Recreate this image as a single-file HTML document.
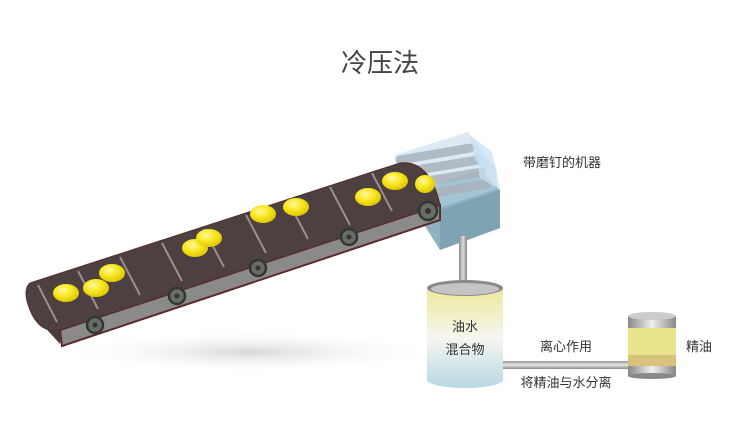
<!DOCTYPE html>
<html><head><meta charset="utf-8"><style>
body{margin:0;background:#fff;}
svg{display:block;font-family:"Liberation Sans","Noto Sans CJK SC",sans-serif;}
</style></head><body>
<svg width="750" height="436" viewBox="0 0 750 436">
<defs>
<radialGradient id="sh" cx="0.5" cy="0.5" r="0.5"><stop offset="0" stop-color="#d8d8d8"/><stop offset="1" stop-color="#fff" stop-opacity="0"/></radialGradient>
<radialGradient id="lem" cx="0.4" cy="0.35" r="0.7"><stop offset="0" stop-color="#fff9a0"/><stop offset="0.5" stop-color="#f8e61c"/><stop offset="1" stop-color="#d9c200"/></radialGradient>
<linearGradient id="tank" x1="0" y1="0" x2="0" y2="1"><stop offset="0" stop-color="#ece89a"/><stop offset="0.5" stop-color="#f6f6f0"/><stop offset="1" stop-color="#b9d8e6"/></linearGradient>
<linearGradient id="pipeV" x1="0" y1="0" x2="1" y2="0"><stop offset="0" stop-color="#888"/><stop offset="0.5" stop-color="#ddd"/><stop offset="1" stop-color="#888"/></linearGradient>
<linearGradient id="pipeH" x1="0" y1="0" x2="0" y2="1"><stop offset="0" stop-color="#999"/><stop offset="0.5" stop-color="#e6e6e6"/><stop offset="1" stop-color="#888"/></linearGradient>
<linearGradient id="cap" x1="0" y1="0" x2="1" y2="0"><stop offset="0" stop-color="#888"/><stop offset="0.5" stop-color="#eee"/><stop offset="1" stop-color="#888"/></linearGradient>
</defs>
<text x="380" y="72" font-size="26" fill="#444" text-anchor="middle">冷压法</text>
<ellipse cx="250" cy="352" rx="190" ry="22" fill="url(#sh)"/>
<polygon points="418,190 480,170 500,190 500,228 440,250 418,215" fill="#8fb2c0"/>
<polygon points="440,210 500,190 500,228 440,250" fill="#7ea4b4"/>
<g stroke="#9a918c" stroke-width="9" stroke-linecap="round" opacity="0.85">
<line x1="400" y1="160" x2="470" y2="148"/>
<line x1="405" y1="172" x2="478" y2="160"/>
<line x1="410" y1="184" x2="482" y2="172"/>
<line x1="418" y1="196" x2="486" y2="184"/>
</g>
<polygon points="395,155 468,132 497,170 495,190 432,210 400,180" fill="#b8d6ea" opacity="0.5"/>
<polygon points="470,135 492,152 497,175 475,160" fill="#c8e0f2" opacity="0.7"/>
<polygon points="475,150 495,165 500,190 480,178" fill="#c8e0f2" opacity="0.7"/>
<path d="M27,292 Q26,305 40,322 L60,344 L62,330 Z" fill="#4a3c3c"/>
<polygon points="60,330 440,205 440,220 62,346" fill="#8a8a8a" stroke="#5a2c2c" stroke-width="2"/>
<path d="M30,283 L400,163 Q430,160 440,205 L60,330 Q40,334 30,310 Q22,290 30,283 Z" fill="#4d4040" stroke="#5a2c2c" stroke-width="1"/>
<g stroke="#9a8e8e" stroke-width="2">
<line x1="38" y1="285" x2="57" y2="322"/>
<line x1="78" y1="271" x2="98" y2="309"/>
<line x1="120" y1="257" x2="140" y2="295"/>
<line x1="162" y1="243" x2="182" y2="281"/>
<line x1="204" y1="229" x2="224" y2="267"/>
<line x1="246" y1="215" x2="266" y2="253"/>
<line x1="288" y1="201" x2="308" y2="239"/>
<line x1="330" y1="187" x2="350" y2="225"/>
<line x1="372" y1="173" x2="392" y2="211"/>
</g>
<g fill="#6a6a6a" stroke="#2f3a2a" stroke-width="2.5">
<circle cx="95" cy="325" r="8"/><circle cx="177" cy="296" r="8"/><circle cx="258" cy="268" r="8"/><circle cx="349" cy="237" r="8"/><circle cx="428" cy="211" r="9"/>
</g>
<g fill="#2f3a2a"><circle cx="95" cy="325" r="2.5"/><circle cx="177" cy="296" r="2.5"/><circle cx="258" cy="268" r="2.5"/><circle cx="349" cy="237" r="2.5"/><circle cx="428" cy="211" r="3"/></g>
<g fill="url(#lem)">
<ellipse cx="66" cy="293" rx="13" ry="9"/><ellipse cx="96" cy="288" rx="13" ry="9"/><ellipse cx="112" cy="273" rx="13" ry="9"/>
<ellipse cx="195" cy="248" rx="13" ry="9"/><ellipse cx="209" cy="238" rx="13" ry="9"/>
<ellipse cx="263" cy="214" rx="13" ry="9"/><ellipse cx="296" cy="207" rx="13" ry="9"/>
<ellipse cx="368" cy="197" rx="13" ry="9"/><ellipse cx="395" cy="181" rx="13" ry="9"/><ellipse cx="425" cy="184" rx="10" ry="9"/>
</g>
<rect x="459" y="236" width="8" height="52" fill="url(#pipeV)"/>
<rect x="500" y="361" width="132" height="8" fill="url(#pipeH)"/>
<path d="M427,288 L427,380 A38,8 0 0 0 503,380 L503,288 Z" fill="url(#tank)"/>
<ellipse cx="465" cy="288" rx="38" ry="8" fill="#8a8a8a"/>
<ellipse cx="465" cy="289" rx="34" ry="6" fill="#c4c4c4"/>
<rect x="628" y="320" width="48" height="50" fill="#eae38e"/>
<rect x="628" y="355" width="48" height="15" fill="#d8c27a"/>
<rect x="628" y="316" width="48" height="12" fill="url(#cap)"/>
<ellipse cx="652" cy="316" rx="24" ry="4" fill="#ccc"/>
<rect x="628" y="366" width="48" height="10" fill="url(#cap)"/>
<ellipse cx="652" cy="376" rx="24" ry="3" fill="#888"/>
<g font-size="13" fill="#333">
<text x="523" y="167">带磨钉的机器</text>
<text x="465" y="331" text-anchor="middle">油水</text>
<text x="465" y="354" text-anchor="middle">混合物</text>
<text x="566" y="351" text-anchor="middle">离心作用</text>
<text x="566" y="387" text-anchor="middle">将精油与水分离</text>
<text x="686" y="351">精油</text>
</g>
</svg>
</body></html>
